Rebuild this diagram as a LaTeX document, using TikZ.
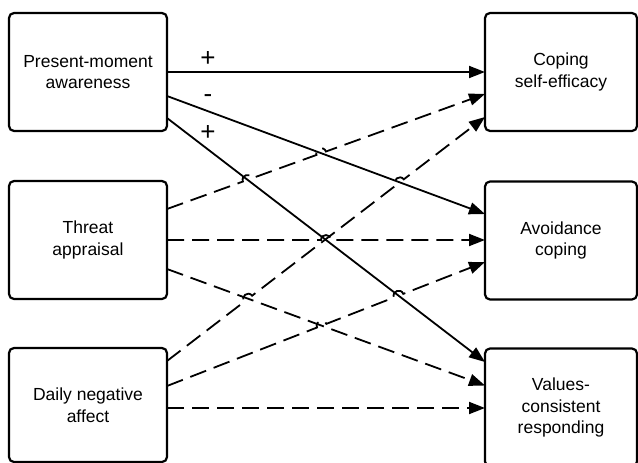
\documentclass[tikz,border=0pt]{standalone}
\usepackage{fontspec}
\setmainfont{Liberation Sans}
\usetikzlibrary{arrows.meta,calc,intersections}
\begin{document}
\begin{tikzpicture}[x=1pt,y=-1pt,
  box/.style={draw, line width=2.2pt, rounded corners=5pt, align=center,
    font=\fontsize{17.5}{21.5}\selectfont, inner sep=0pt, outer sep=0pt},
  conn/.style={line width=1.8pt, -{Triangle[length=16pt,width=12pt]}},
  dconn/.style={conn, dash pattern=on 17pt off 8pt},
  sign/.style={font=\fontsize{26}{26}\selectfont, inner sep=0pt},
  hop/.style={bend left=90, looseness=1.7}
]
\useasboundingbox (0,0) rectangle (638,463);
\clip (0,0) rectangle (638,463);

% boxes
\node[box, minimum width=158pt, minimum height=118pt] (pma) at (88,72) {Present-moment\\awareness};
\node[box, minimum width=158pt, minimum height=118pt] (ta) at (88,240) {Threat\\appraisal};
\node[box, minimum width=158pt, minimum height=114pt] (dna) at (88,405) {Daily negative\\affect};
\node[box, minimum width=152pt, minimum height=118pt] (cse) at (561,72) {Coping\\self-efficacy};
\node[box, minimum width=152pt, minimum height=118pt] (ac) at (561,240.5) {Avoidance\\coping};
\node[box, minimum width=152pt, minimum height=118pt] (vcr) at (561,407.5) {Values-\\consistent\\responding};

% end points
\coordinate (s1a) at (pma.east);
\coordinate (s1b) at (cse.west);
\coordinate (s2a) at ($(pma.east)+(0,24)$);
\coordinate (s2b) at ($(ac.west)+(0,-26.5)$);
\coordinate (s3a) at ($(pma.east)+(0,46)$);
\coordinate (s3b) at ($(vcr.west)+(0,-45.5)$);
\coordinate (d4a) at ($(ta.east)+(0,-31)$);
\coordinate (d4b) at ($(cse.west)+(0,22)$);
\coordinate (d5a) at (ta.east);
\coordinate (d5b) at ($(ac.west)+(0,-0.5)$);
\coordinate (d6a) at ($(ta.east)+(0,29)$);
\coordinate (d6b) at ($(vcr.west)+(0,-22)$);
\coordinate (d7a) at ($(dna.east)+(0,-44)$);
\coordinate (d7b) at ($(cse.west)+(0,45)$);
\coordinate (d8a) at ($(dna.east)+(0,-19)$);
\coordinate (d8b) at ($(ac.west)+(0,21.5)$);
\coordinate (d9a) at ($(dna.east)+(0,3)$);
\coordinate (d9b) at ($(vcr.west)+(0,0.5)$);

% helper paths for crossings
\path[name path=S2] (s2a) -- (s2b);
\path[name path=S3] (s3a) -- (s3b);
\path[name path=D4] (d4a) -- (d4b);
\path[name path=D5] (d5a) -- (d5b);
\path[name path=D6] (d6a) -- (d6b);
\path[name path=D7] (d7a) -- (d7b);
\path[name path=D8] (d8a) -- (d8b);
\path[name intersections={of=D4 and S3,by=h1}];
\path[name intersections={of=D4 and S2,by=h2}];
\path[name intersections={of=D5 and S3,by=h3}];
\path[name intersections={of=D7 and D6,by=h4}];
\path[name intersections={of=D7 and S2,by=h5}];
\path[name intersections={of=D8 and D6,by=h6}];
\path[name intersections={of=D8 and S3,by=h7}];

% dashed connectors with hops
\draw[dconn] (d4a) -- ($(h1)!5pt!(d4a)$) to[hop] ($(h1)!5pt!(d4b)$)
  -- ($(h2)!5pt!(d4a)$) to[hop] ($(h2)!5pt!(d4b)$) -- (d4b);
\draw[dconn] (d5a) -- ($(h3)!5pt!(d5a)$) to[hop] ($(h3)!5pt!(d5b)$) -- (d5b);
\draw[dconn] (d6a) -- (d6b);
\draw[dconn] (d7a) -- ($(h4)!5pt!(d7a)$) to[hop] ($(h4)!5pt!(d7b)$)
  -- ($(h5)!5pt!(d7a)$) to[hop] ($(h5)!5pt!(d7b)$) -- (d7b);
\draw[dconn] (d8a) -- ($(h6)!5pt!(d8a)$) to[hop] ($(h6)!5pt!(d8b)$)
  -- ($(h7)!5pt!(d8a)$) to[hop] ($(h7)!5pt!(d8b)$) -- (d8b);
\draw[dconn] (d9a) -- (d9b);

% solid connectors
\draw[conn] (s1a) -- (s1b);
\draw[conn] (s2a) -- (s2b);
\draw[conn] (s3a) -- (s3b);

% signs
\node[sign] (p1) at (208,59) {+};
\node[sign] (m1) at (208,99) {-};
\node[sign] (p2) at (208,133) {+};
\end{tikzpicture}
\end{document}
